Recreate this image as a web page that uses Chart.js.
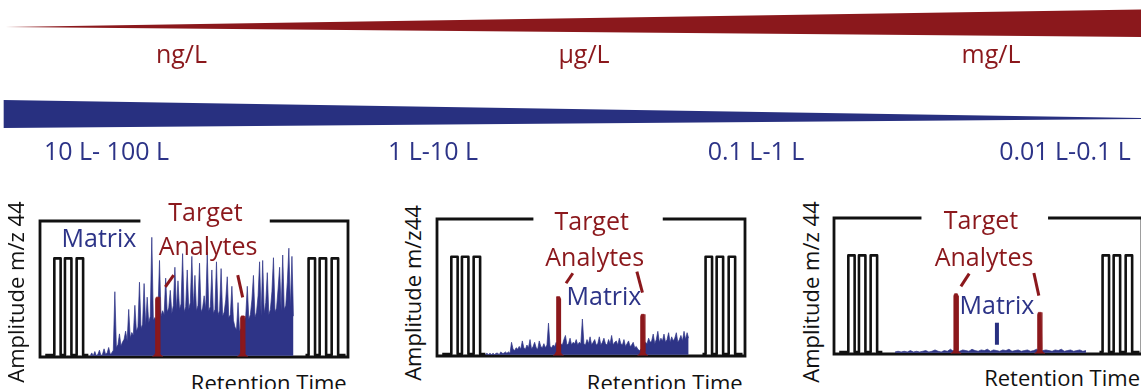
<!DOCTYPE html>
<html><head><meta charset="utf-8">
<script src="https://cdn.jsdelivr.net/npm/chart.js@4.4.1/dist/chart.umd.min.js"></script>
<style>
html,body{margin:0;padding:0;background:#fff;}
body{width:1141px;height:389px;overflow:hidden;position:relative;font-family:'Open Sans',sans-serif;}
canvas{position:absolute;}
.t{position:absolute;white-space:nowrap;line-height:1;}
.c{width:240px;text-align:center;}
.r{width:300px;text-align:right;}
.red{color:#8b181c;}
.blue{color:#2c3387;}
.k{color:#111;}
.s25{font-size:25px;}
.s22{font-size:22px;}
.yl{width:220px;height:22px;text-align:center;transform:rotate(-90deg);font-size:22px;color:#111;}
</style></head><body>
<canvas id="wedges" width="1141" height="140" style="left:0;top:0"></canvas>
<canvas id="p1" width="324" height="152" style="left:32px;top:213px"></canvas>
<canvas id="p2" width="324" height="153" style="left:429px;top:211px"></canvas>
<canvas id="p3" width="324" height="152" style="left:826px;top:210px"></canvas>

<div class="t c s25 red" style="left:61.5px;top:40.8px">ng/L</div>
<div class="t c s25 red" style="left:464px;top:40.8px">µg/L</div>
<div class="t c s25 red" style="left:871px;top:40.8px">mg/L</div>
<div class="t c s25 blue" style="left:-13.5px;top:138.3px">10 L- 100 L</div>
<div class="t c s25 blue" style="left:313px;top:138.3px">1 L-10 L</div>
<div class="t c s25 blue" style="left:636px;top:138.3px">0.1 L-1 L</div>
<div class="t c s25 blue" style="left:945px;top:138.3px">0.01 L-0.1 L</div>

<div class="t c s25 red" style="left:85.5px;top:198.5px">Target</div>
<div class="t c s25 red" style="left:88px;top:232.8px">Analytes</div>
<div class="t c s25 blue" style="left:-21px;top:224.5px">Matrix</div>
<div class="t yl" style="left:-94.8px;top:280.5px">Amplitude m/z 44</div>
<div class="t r s22 k" style="left:46.7px;top:371.2px">Retention Time</div>

<div class="t c s25 red" style="left:471.7px;top:207.8px">Target</div>
<div class="t c s25 red" style="left:474.7px;top:243.8px">Analytes</div>
<div class="t c s25 blue" style="left:484px;top:282.8px">Matrix</div>
<div class="t yl" style="left:302px;top:282px">Amplitude m/z44</div>
<div class="t r s22 k" style="left:442.7px;top:371.2px">Retention Time</div>

<div class="t c s25 red" style="left:861px;top:207.1px">Target</div>
<div class="t c s25 red" style="left:864px;top:243.8px">Analytes</div>
<div class="t c s25 blue" style="left:877px;top:291.8px">Matrix</div>
<div class="t yl" style="left:700px;top:280.5px">Amplitude m/z 44</div>
<div class="t r s22 k" style="left:840px;top:366.2px">Retention Time</div>

<script>
// ---------- data ----------
// concentration wedge (red) and sample volume wedge (blue)
const redWedgeX = [0.5, 100];
const redUpper = [27, 9.5];
const redLower = [27, 37];
const blueWedgeX = [0.3, 100];
const blueUpper = [100, 118];
const blueLower = [128, 119];

// reference gas pulses (same in every panel)
const pulseStarts = [4.65, 8.1, 11.9, 87.2, 90.8, 94.7];
const pulseEnds   = [6.7, 10.2, 14.0, 89.3, 92.9, 96.8];
const pulseHeight = 72.5;
const pulseBaseLevel = 1.5;
const pulseBaselineLeft = [1.7, 15.7];
const pulseBaselineRight = [86.2, 99.2];

// matrix signals
const matrix1Start = 16.3, matrix1Step = 0.5;
const matrix1 = [
 1,3,1,4,1,2,5,1,2,6,
 2,3,7,2,3,5,48,7,9,17,
 8,11,13,19,12,35,14,18,16,38,
 19,22,55,21,24,54,23,44,25,30,
 88,27,29,26,33,71,30,34,31,58,
 33,36,49,32,38,66,34,56,35,39,
 76,33,37,64,35,40,74,36,60,34,
 38,69,33,36,45,35,77,34,37,64,
 32,35,70,31,34,65,30,33,42,59,
 29,31,52,27,22,20,40,19,21,25,
 27,30,52,28,31,42,60,29,33,45,
 70,30,71,32,40,62,31,35,48,73,
 33,36,50,66,34,75,35,38,55,80,
 36,74,30];
const matrix2Start = 15.7, matrix2Step = 0.5;
const matrix2 = [
 1,2,1,2,1,2,1,2,2,1,
 3,2,2,3,2,3,2,10,5,4,
 6,5,7,5,11,6,5,8,6,12,
 5,7,10,6,5,11,7,6,9,6,
 8,24,7,6,8,7,10,7,8,9,
 8,12,15,8,9,13,8,10,9,12,
 8,10,9,27,9,8,12,9,14,8,
 10,12,8,9,14,8,10,13,9,8,
 12,9,15,8,10,11,8,13,9,8,
 12,7,9,11,7,8,10,6,7,5,
 4,5,6,8,10,9,13,10,11,16,
 9,12,18,10,13,11,16,10,12,17,
 10,14,11,13,17,10,12,15,11,18,
 12,17,13];
const matrix3Start = 19.8, matrix3Step = 1;
const matrix3 = [
 1.5,2,1.5,2,1.5,2.5,1.5,2,1.5,2,
 2.5,1.5,2,3,2,1.5,2.5,2,3.5,2,
 2.5,2,3,2.5,2,3.5,2.5,2,3,2.5,
 3.5,2,3,2.5,2,3,2.5,3.5,2,2.5,
 3,2,2.5,3,2,2.5,3.5,2,2.5,3,
 2.5,2,3,2.5,3.5,2,2.5,3,2,2.5,
 3,2,2.5];
const matrix3Marker = [52.9, 6.8, 23];

// target analytes: retention times and heights
const analyteTimes1 = [38.2, 65.8], analyteHeights1 = [44, 30.2];
const analyteTimes2 = [39.4, 66.8], analyteHeights2 = [43.3, 30.4];
const analyteTimes3 = [39.6, 66.8], analyteHeights3 = [44.3, 30.6];

// leader lines (x0, y0, x1, y1 in panel units)
const leaders1 = [[40.7, 51.6, 43.4, 60.2], [64.2, 60.2, 65.8, 43.8]];
const leaders2 = [[41.9, 53.1, 44.1, 60.4], [64.9, 61.6, 66.7, 46.2]];
const leaders3 = [[41.2, 49.7, 43.9, 59.1], [64.9, 59.6, 66.5, 42.9]];

// gaps in the top frame line (where the title sits)
const frameGap1 = [32.6, 74.6];
const frameGap2 = [31.3, 73.3];
const frameGap3 = [28.4, 69.5];

// ---------- drawing ----------
const RED = '#8b181c', BLUE = '#283080', BLACK = '#111111';

function pts(xs, ys){ return xs.map((x,i)=>({x, y: ys[i]})); }

new Chart(document.getElementById('wedges'), {
  type: 'line',
  data: { datasets: [
    {data: pts(redWedgeX, redUpper), borderWidth: 0, pointRadius: 0, fill: false},
    {data: pts(redWedgeX, redLower), borderWidth: 0, pointRadius: 0, fill: '-1', backgroundColor: RED},
    {data: pts(blueWedgeX, blueUpper), borderWidth: 0, pointRadius: 0, fill: false},
    {data: pts(blueWedgeX, blueLower), borderWidth: 0, pointRadius: 0, fill: '-1', backgroundColor: BLUE}
  ]},
  options: {
    responsive: false, animation: false, events: [],
    layout: {padding: 0},
    plugins: {legend: {display: false}, tooltip: {enabled: false}},
    scales: {
      x: {type: 'linear', min: 0, max: 100, display: false},
      y: {type: 'linear', min: 0, max: 140, reverse: true, display: false}
    }
  }
});

const framePlugin = {
  id: 'frame',
  beforeDatasetsDraw(chart, args, opts) {
    const {ctx, chartArea: a, scales: {x}} = chart;
    const g0 = x.getPixelForValue(opts.gap[0]), g1 = x.getPixelForValue(opts.gap[1]);
    ctx.save();
    ctx.strokeStyle = BLACK; ctx.lineWidth = 2.8; ctx.lineJoin = 'miter';
    ctx.beginPath();
    ctx.moveTo(g0, a.top); ctx.lineTo(a.left, a.top); ctx.lineTo(a.left, a.bottom);
    ctx.lineTo(a.right, a.bottom); ctx.lineTo(a.right, a.top); ctx.lineTo(g1, a.top);
    ctx.stroke();
    ctx.restore();
  }
};

function pulseTrain(range){
  const out = [{x: range[0], y: pulseBaseLevel}];
  pulseStarts.forEach((s, i) => {
    if (s > range[0] && s < range[1]) {
      const e = pulseEnds[i];
      out.push({x: s, y: pulseBaseLevel}, {x: s, y: pulseHeight}, {x: e, y: pulseHeight}, {x: e, y: pulseBaseLevel});
    }
  });
  out.push({x: range[1], y: pulseBaseLevel});
  return out;
}

function peakShape(c, h){
  return [[-1.7,0.4],[-1.0,1.3],[-0.72,3],[-0.68,h-1.5],[-0.45,h],[0.45,h],[0.68,h-1.5],[0.72,3],[1.0,1.3],[1.7,0.4]]
    .map(([dx,y]) => ({x: c + dx, y}));
}

function panel(id, matrix, mStart, mStep, times, heights, leaders, gap, marker){
  const ds = [];
  times.forEach((t, i) => ds.push({data: peakShape(t, heights[i]), borderColor: RED, borderWidth: 0.8,
    backgroundColor: RED, fill: {value: 0.3}, pointRadius: 0}));
  leaders.forEach(l => ds.push({data: [{x: l[0], y: l[1]}, {x: l[2], y: l[3]}], borderColor: RED,
    borderWidth: 3, borderCapStyle: 'butt', fill: false, pointRadius: 0}));
  if (marker) ds.push({data: [{x: marker[0], y: marker[1]}, {x: marker[0], y: marker[2]}], borderColor: BLUE,
    borderWidth: 4, borderCapStyle: 'butt', fill: false, pointRadius: 0});
  ds.push({data: pulseTrain(pulseBaselineLeft), borderColor: BLACK, borderWidth: 2.6, borderJoinStyle: 'round', fill: false, pointRadius: 0});
  ds.push({data: pulseTrain(pulseBaselineRight), borderColor: BLACK, borderWidth: 2.6, borderJoinStyle: 'round', fill: false, pointRadius: 0});
  ds.push({data: matrix.map((v, i) => ({x: mStart + i*mStep, y: v})), borderColor: '#2e3487', borderWidth: 0.7,
    backgroundColor: '#2e3487', fill: {value: 1}, pointRadius: 0});
  new Chart(document.getElementById(id), {
    type: 'line',
    data: {datasets: ds},
    plugins: [framePlugin],
    options: {
      responsive: false, animation: false, events: [],
      layout: {padding: 8},
      plugins: {legend: {display: false}, tooltip: {enabled: false}, frame: {gap}},
      scales: {
        x: {type: 'linear', min: 0, max: 100, display: false},
        y: {type: 'linear', min: 0, max: 100, display: false}
      }
    }
  });
}

panel('p1', matrix1, matrix1Start, matrix1Step, analyteTimes1, analyteHeights1, leaders1, frameGap1, null);
panel('p2', matrix2, matrix2Start, matrix2Step, analyteTimes2, analyteHeights2, leaders2, frameGap2, null);
panel('p3', matrix3, matrix3Start, matrix3Step, analyteTimes3, analyteHeights3, leaders3, frameGap3, matrix3Marker);
</script>
</body></html>
